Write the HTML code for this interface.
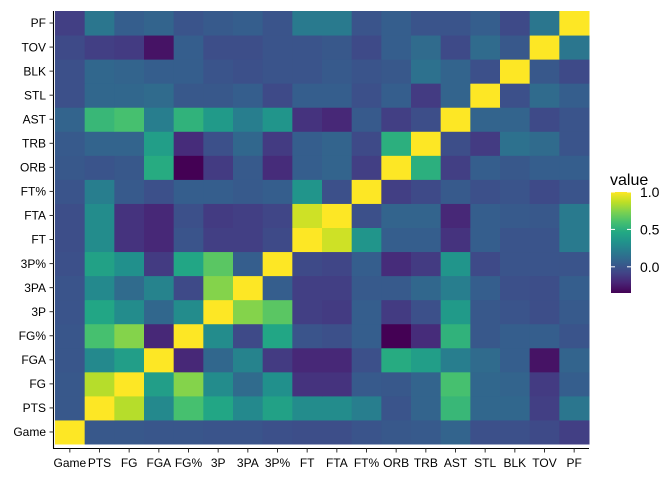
<!DOCTYPE html>
<html><head><meta charset="utf-8"><style>
html,body{margin:0;padding:0;background:#fff}
svg{display:block;font-family:"Liberation Sans",Arial,sans-serif}
</style></head><body>
<svg id="chart" width="672" height="480" viewBox="0 0 672 480" xmlns="http://www.w3.org/2000/svg">
<defs>
<linearGradient id="vir" x1="0" y1="1" x2="0" y2="0">
<stop offset="0" stop-color="#440154"/><stop offset="0.1" stop-color="#482475"/><stop offset="0.2" stop-color="#414487"/><stop offset="0.3" stop-color="#355f8d"/><stop offset="0.4" stop-color="#2a788e"/><stop offset="0.5" stop-color="#21918c"/><stop offset="0.6" stop-color="#22a884"/><stop offset="0.7" stop-color="#44bf70"/><stop offset="0.8" stop-color="#7ad151"/><stop offset="0.9" stop-color="#bddf26"/><stop offset="1" stop-color="#fde725"/>
</linearGradient>
</defs>
<g id="cells"></g>
<g id="axes"></g>
<g id="legend">
<text x="610" y="185" font-size="16" fill="#000">value</text>
<rect x="611" y="192" width="20" height="101" fill="url(#vir)"/>
</g>
</svg>
<script>
const categories = ["Game","PTS","FG","FGA","FG%","3P","3PA","3P%","FT","FTA","FT%","ORB","TRB","AST","STL","BLK","TOV","PF"];
const rowGame = [1,.02,.02,.01,.01,0,0,-.02,-.03,-.03,0,.02,.03,.08,-.02,-.02,-.05,-.1];
const rowPTS = [.02,1,.85,.28,.6,.45,.28,.42,.3,.3,.22,0,.08,.55,.1,.1,-.1,.18];
const rowFG = [.02,.85,1,.4,.75,.3,.12,.32,-.15,-.15,.03,.02,.08,.6,.1,.08,-.12,.05];
const rowFGA = [.01,.28,.4,1,-.2,.1,.25,-.12,-.2,-.2,-.02,.48,.4,.22,.12,.05,-.28,.08];
const rowFGpct = [.01,.6,.75,-.2,1,.3,-.05,.45,0,-.02,.05,-.35,-.18,.52,.02,.05,.05,0];
const row3P = [0,.45,.3,.1,.3,1,.75,.65,-.1,-.12,.05,-.12,-.02,.38,.02,0,-.03,.03];
const row3PA = [0,.28,.12,.25,-.05,.75,1,.05,-.1,-.1,.03,.03,.1,.22,.05,-.02,-.03,.05];
const row3Ppct = [-.02,.42,.32,-.12,.45,.65,.05,1,-.05,-.07,.05,-.18,-.12,.35,-.05,0,0,0];
const rowFT = [-.03,.3,-.15,-.2,0,-.1,-.1,-.05,1,.9,.35,.05,.05,-.15,.05,0,0,.2];
const rowFTA = [-.03,.3,-.15,-.2,-.02,-.12,-.1,-.07,.9,1,-.02,.08,.08,-.2,.05,.03,.02,.2];
const rowFTpct = [0,.22,.03,-.02,.05,.05,.03,.05,.35,-.02,1,-.1,-.05,.03,-.02,0,-.05,0];
const rowORB = [.02,0,.02,.48,-.35,-.12,.03,-.18,.05,.08,-.1,1,.5,-.1,.05,.02,.05,.05];
const rowTRB = [.03,.08,.08,.4,-.18,-.02,.1,-.12,.05,.08,-.05,.5,1,-.03,-.12,.15,.12,0];
const rowAST = [.08,.55,.6,.22,.52,.38,.22,.35,-.15,-.2,.03,-.1,-.03,1,.08,.08,-.05,0];
const rowSTL = [-.02,.1,.1,.12,.02,.02,.05,-.05,.05,.05,-.02,.05,-.12,.08,1,-.02,.12,.05];
const rowBLK = [-.02,.1,.08,.05,.05,0,-.02,0,0,.03,0,.02,.15,.08,-.02,1,.02,-.05];
const rowTOV = [-.05,-.1,-.12,-.28,.05,-.03,-.03,0,0,.02,-.05,.05,.12,-.05,.12,.02,1,.18];
const rowPF = [-.1,.18,.05,.08,0,.03,.05,0,.2,.2,0,.05,0,0,.05,-.05,.18,1];
const matrix = [rowGame,rowPTS,rowFG,rowFGA,rowFGpct,row3P,row3PA,row3Ppct,rowFT,rowFTA,rowFTpct,rowORB,rowTRB,rowAST,rowSTL,rowBLK,rowTOV,rowPF];
const legendTicks = [1.0,0.5,0.0];
const legendLabels = ["1.0","0.5","0.0"];

const NS="http://www.w3.org/2000/svg";
const X0=55,X1=589,Y0=11,Y1=444;
const n=categories.length, cw=(X1-X0)/n, ch=(Y1-Y0)/n;
const vmin=-0.35,vmax=1.0;
const xPos=i=>X0+i*cw;
const yPos=i=>Y1-(i+1)*ch;
const stops=["#440154","#482475","#414487","#355f8d","#2a788e","#21918c","#22a884","#44bf70","#7ad151","#bddf26","#fde725"];
function hex(h){return [1,3,5].map(k=>parseInt(h.substr(k,2),16));}
function color(v){
  let t=(v-vmin)/(vmax-vmin);t=Math.max(0,Math.min(1,t));
  const s=t*(stops.length-1),k=Math.min(Math.floor(s),stops.length-2),f=s-k;
  const a=hex(stops[k]),b=hex(stops[k+1]);
  return "rgb("+a.map((c,i)=>Math.round(c+(b[i]-c)*f)).join(",")+")";
}
function el(tag,attrs,parent){const e=document.createElementNS(NS,tag);for(const k in attrs)e.setAttribute(k,attrs[k]);parent.appendChild(e);return e;}
const cells=document.getElementById('cells');
for(let r=0;r<n;r++)for(let c=0;c<n;c++){
  const e=el('rect',{x:xPos(c),y:yPos(r),width:cw+0.5,height:ch+0.5,fill:color(matrix[r][c])},cells);
  
  
}
const axes=document.getElementById('axes');
const ya=el('line',{x1:53.5,y1:Y0,x2:53.5,y2:448.5,stroke:'#000','stroke-width':1.1},axes);


const xa=el('line',{x1:53,y1:448.5,x2:X1,y2:448.5,stroke:'#000','stroke-width':1.1},axes);


for(let i=0;i<n;i++){
  const yc=yPos(i)+ch/2, xc=xPos(i)+cw/2;
  el('line',{x1:49.5,y1:yc,x2:53.5,y2:yc,stroke:'#333'},axes);
  const t=el('text',{x:46,y:yc+4.2,'text-anchor':'end','font-size':12,fill:'#000'},axes);
  t.textContent=categories[i];
  
  
  el('line',{x1:xc,y1:448.5,x2:xc,y2:452.5,stroke:'#333'},axes);
  const u=el('text',{x:xc,y:467,'text-anchor':'middle','font-size':12,fill:'#000'},axes);
  u.textContent=categories[i];
  
  
}
const lg=document.getElementById('legend');
const ly=v=>293-(v-vmin)/(vmax-vmin)*101;
legendTicks.forEach((v,i)=>{
  const y=ly(v);
  el('line',{x1:611,y1:y,x2:615,y2:y,stroke:'#fff'},lg);
  el('line',{x1:627,y1:y,x2:631,y2:y,stroke:'#fff'},lg);
  const t=el('text',{x:640,y:y+5,'font-size':14,fill:'#000'},lg);
  t.textContent=legendLabels[i];
  
  
});
</script>
</body></html>
